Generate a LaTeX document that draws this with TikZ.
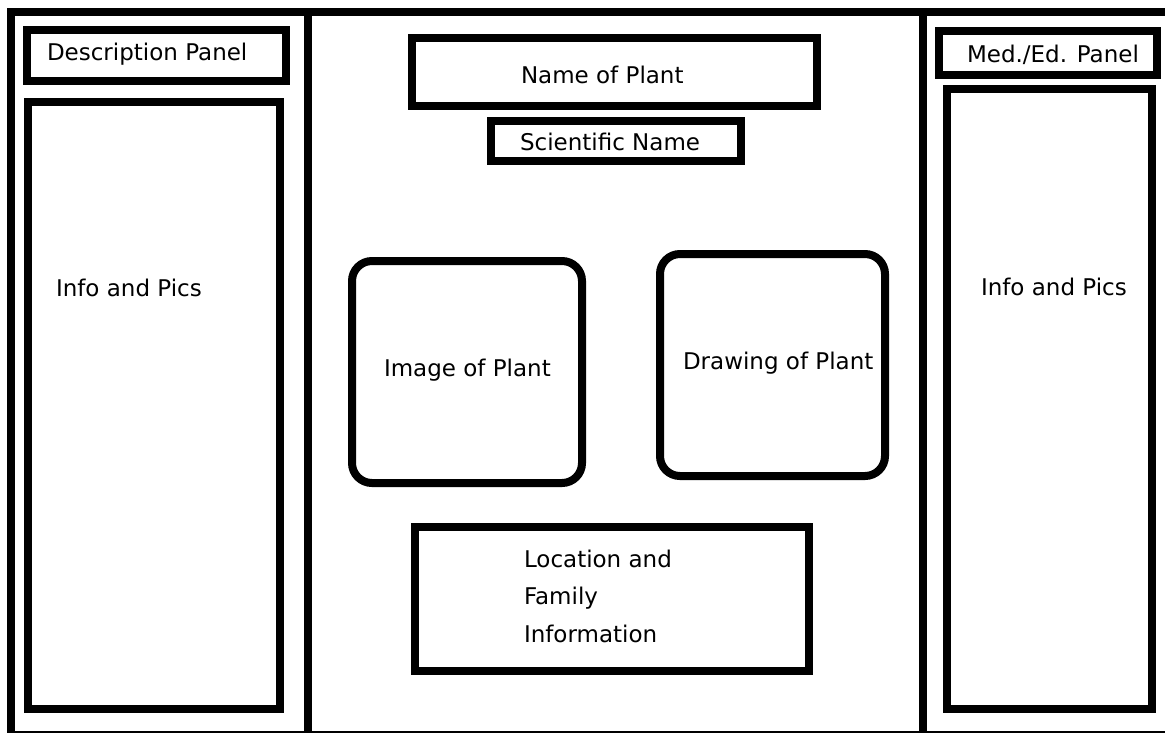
\documentclass[tikz,border=0pt]{standalone}
\usepackage{fontspec}
\setmainfont{DejaVu Sans}
\usepackage{tikz}

\begin{document}
\begin{tikzpicture}[x=1pt, y=-1pt, line width=8pt]
   \tikzset{lbl/.style={anchor=base west, inner sep=0pt, font=\fontsize{23}{27}\selectfont}}
   \useasboundingbox (0,0) rectangle (1165,732);
   \clip (0,0) rectangle (1165,732);

   % board and the two folds
   \draw (11,11.5) rectangle (1180,735);
   \draw (308,11.5) -- (308,740);
   \draw (923,11.5) -- (923,740);

   % left panel
   \draw (27,30) rectangle (286,81);
   \node[lbl] (descr) at (43,60) {Description Panel};
   \draw (28,102) rectangle (280,709);
   \node[lbl] (infol) at (52,296) {Info and Pics};

   % middle panel
   \draw (412,38) rectangle (817,106);
   \node[lbl] (name) at (517,83) {Name of Plant};
   \draw (491,121) rectangle (741,161);
   \node[lbl] (sci) at (516,150) {Scientific Name};

   \draw[rounded corners=20pt] (352,261) rectangle (582,483);
   \node[lbl] (image) at (380,376) {Image of Plant};
   \draw[rounded corners=20pt] (660,254) rectangle (885,476);
   \node[lbl] (drawing) at (679,369) {Drawing of Plant};

   \draw (415,527) rectangle (809,671);
   \node[lbl] (loc1) at (520,567) {Location and};
   \node[lbl] (loc2) at (520,604) {Family};
   \node[lbl] (loc3) at (520,642) {Information};

   % right panel
   \draw (939,31) rectangle (1157,75);
   \node[lbl] (med) at (963,62) {Med./Ed. Panel};
   \draw (947,89) rectangle (1152,709);
   \node[lbl] (infor) at (977,295) {Info and Pics};
\end{tikzpicture}
\end{document}
